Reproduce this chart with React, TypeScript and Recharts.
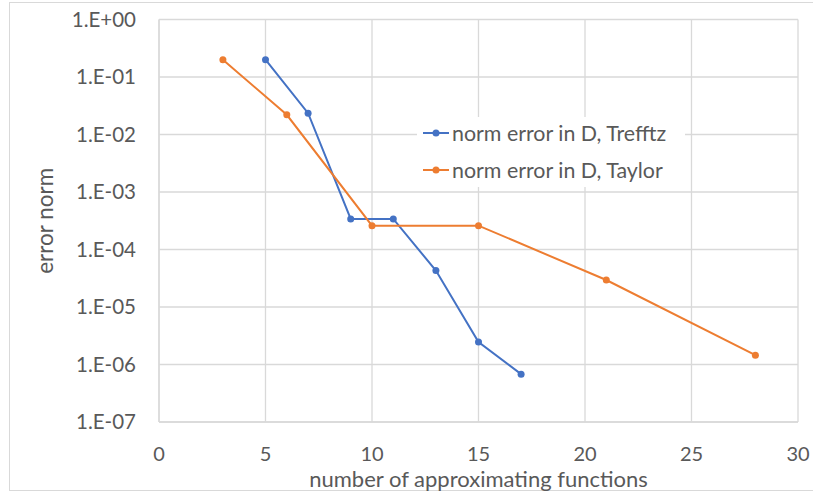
import { LineChart, Line, XAxis, YAxis, CartesianGrid } from "recharts";

const trefftzX = [5, 7, 9, 11, 13, 15, 17];
const trefftzErr = [0.2, 0.0235, 3.4e-4, 3.4e-4, 4.3e-5, 2.45e-6, 6.8e-7];
const taylorX = [3, 6, 10, 15, 21, 28];
const taylorErr = [0.2, 0.022, 2.6e-4, 2.6e-4, 2.95e-5, 1.45e-6];
const seriesNames = ["norm error in D, Trefftz", "norm error in D, Taylor"];
const seriesColors = ["#4472C4", "#ED7D31"];
const xTicks = [0, 5, 10, 15, 20, 25, 30];
const yTicks = [1, 1e-1, 1e-2, 1e-3, 1e-4, 1e-5, 1e-6, 1e-7];

const trefftz = trefftzX.map((x, i) => ({ x, err: trefftzErr[i] }));
const taylor = taylorX.map((x, i) => ({ x, err: taylorErr[i] }));

const FONT = "Lato, 'Open Sans', sans-serif";
const TEXT = "#595959";
const GRID = "#d9d9d9";

const fmtExp = (v: number) => {
  const e = Math.round(Math.log10(v));
  const sign = e < 0 ? "-" : "+";
  return `1.E${sign}${String(Math.abs(e)).padStart(2, "0")}`;
};

const LegendBox = () => (
  <div
    style={{
      position: "absolute",
      left: 417,
      top: 117,
      width: 268,
      height: 70,
      background: "#fff",
      fontFamily: FONT,
      fontSize: 21.4,
      color: TEXT,
    }}
  >
    {seriesNames.map((name, i) => (
      <div
        key={name}
        style={{ position: "absolute", left: 6, top: 4 + i * 37, display: "flex", alignItems: "center", height: 24, whiteSpace: "nowrap" }}
      >
        <svg width={26} height={10} style={{ marginRight: 3 }}>
          <line x1={0} y1={5} x2={26} y2={5} stroke={seriesColors[i]} strokeWidth={2} />
          <circle cx={13} cy={5} r={3.5} fill={seriesColors[i]} />
        </svg>
        <span>{name}</span>
      </div>
    ))}
  </div>
);

const App = () => {
  return (
    <div style={{ position: "relative", width: 813, height: 494, background: "#fff" }}>
      <style>{`body{margin:0;}`}</style>
      <div
        style={{
          position: "absolute",
          left: 9,
          top: 2,
          width: 803,
          height: 487,
          borderTop: `1.5px solid ${GRID}`,
          borderLeft: `1.5px solid ${GRID}`,
          borderBottom: `1.5px solid ${GRID}`,
        }}
      />
      <div style={{ position: "absolute", left: 0, top: 0 }}>
        <LineChart width={813} height={494} margin={{ top: 19.5, right: 15, left: 0, bottom: 0 }}>
          <CartesianGrid stroke={GRID} strokeWidth={1.3} />
          <XAxis
            type="number"
            dataKey="x"
            domain={[0, 30]}
            ticks={xTicks}
            allowDataOverflow
            height={72}
            tickSize={0}
            tickMargin={24.5}
            axisLine={{ stroke: GRID, strokeWidth: 1.3 }}
            tickLine={false}
            tick={{ fill: TEXT, fontSize: 20, fontFamily: FONT }}
            label={(props: any) => {
              const vb = props.viewBox || { x: 159, width: 639 };
              return (
                <text
                  x={vb.x + vb.width / 2}
                  y={478}
                  dominantBaseline="central"
                  textAnchor="middle"
                  fill={TEXT}
                  fontSize={22}
                  fontFamily={FONT}
                >
                  number of approximating functions
                </text>
              );
            }}
          />
          <YAxis
            type="number"
            dataKey="err"
            scale="log"
            domain={[1e-7, 1]}
            ticks={yTicks}
            allowDataOverflow
            width={159}
            tickSize={0}
            tickMargin={23}
            axisLine={{ stroke: GRID, strokeWidth: 1.3 }}
            tickLine={false}
            tickFormatter={fmtExp}
            tick={{ fill: TEXT, fontSize: 20.5, fontFamily: FONT }}
            label={(props: any) => {
              const vb = props.viewBox || { y: 19.5, height: 402.5 };
              const cy = vb.y + vb.height / 2;
              return (
                <text
                  x={44}
                  y={cy}
                  transform={`rotate(-90, 44, ${cy})`}
                  dominantBaseline="central"
                  textAnchor="middle"
                  fill={TEXT}
                  fontSize={22.5}
                  fontFamily={FONT}
                >
                  error norm
                </text>
              );
            }}
          />
          <Line
            data={trefftz}
            dataKey="err"
            name={seriesNames[0]}
            stroke={seriesColors[0]}
            strokeWidth={2}
            dot={{ r: 3.5, fill: seriesColors[0], stroke: seriesColors[0], strokeWidth: 0 }}
            isAnimationActive={false}
          />
          <Line
            data={taylor}
            dataKey="err"
            name={seriesNames[1]}
            stroke={seriesColors[1]}
            strokeWidth={2}
            dot={{ r: 3.5, fill: seriesColors[1], stroke: seriesColors[1], strokeWidth: 0 }}
            isAnimationActive={false}
          />
        </LineChart>
      </div>
      <LegendBox />
    </div>
  );
};

export default App;
